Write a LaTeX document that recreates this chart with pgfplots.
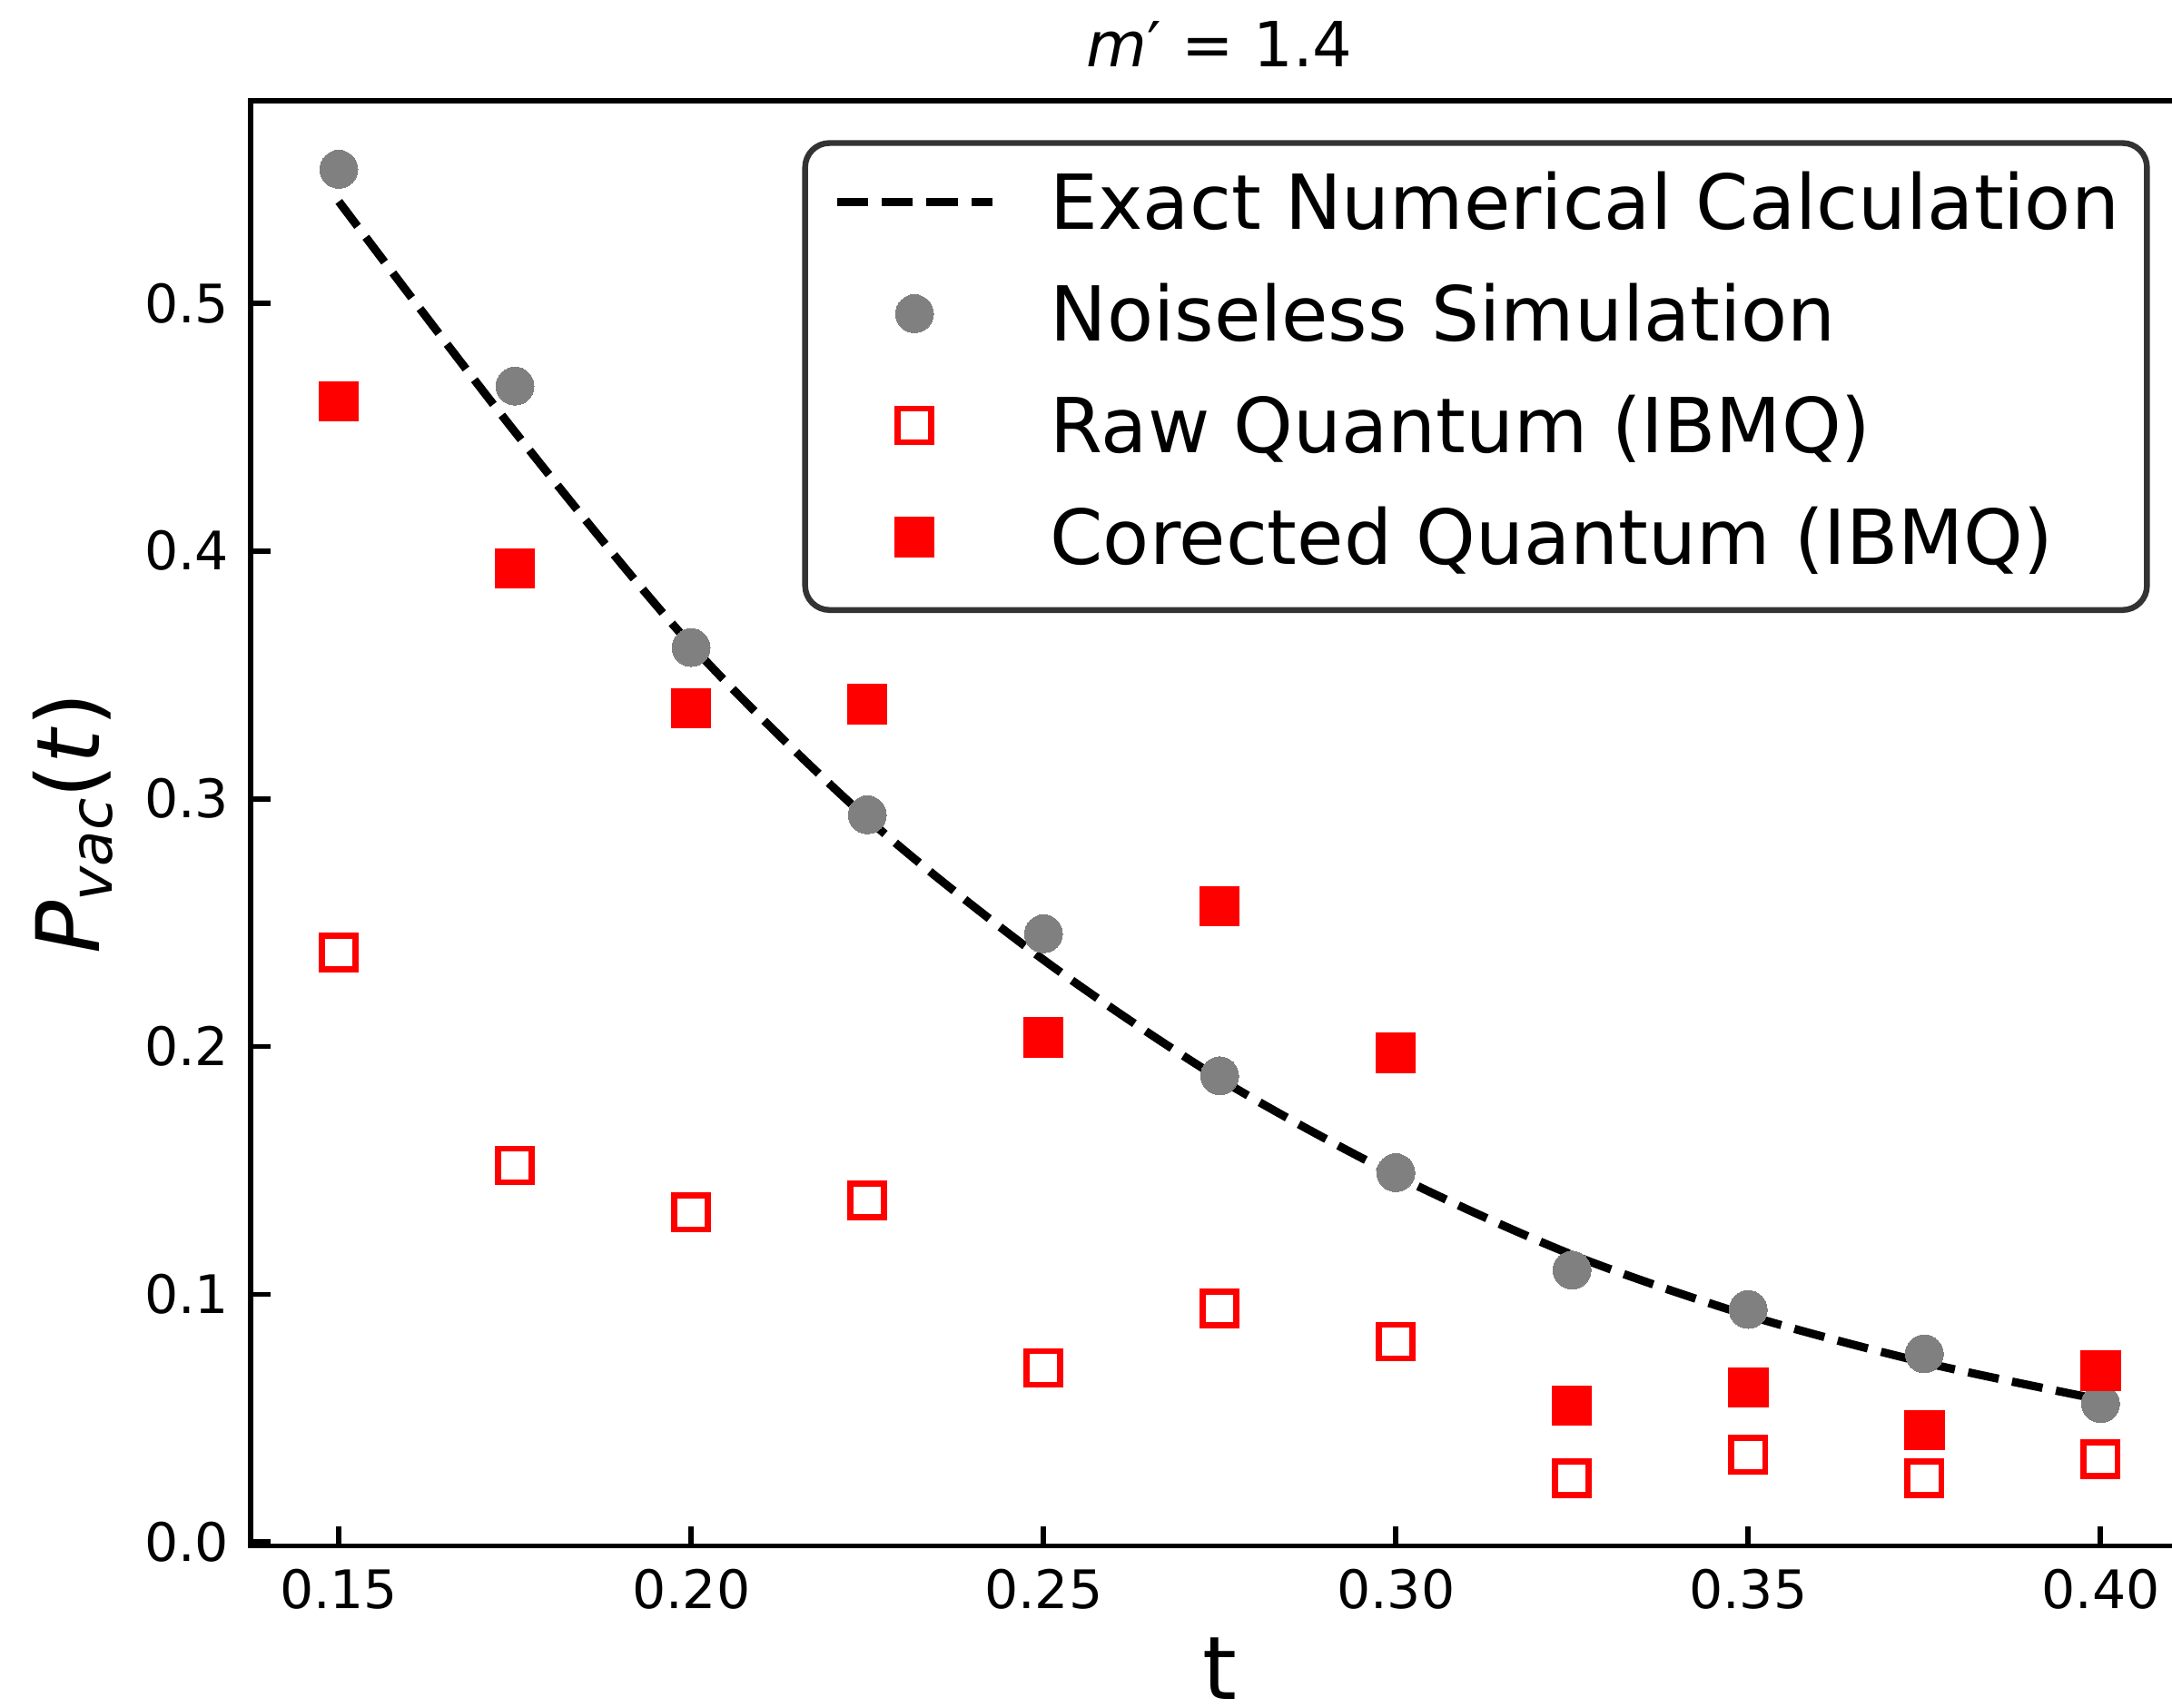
\documentclass[border=0pt]{standalone}
\usepackage{fontspec}
\setmainfont{DejaVu Sans}
\usepackage{pgfplots}
\pgfplotsset{compat=1.18}

\definecolor{ptgray}{HTML}{808080}
\definecolor{ptred}{HTML}{FF0000}

\pgfplotsset{
    lineleg/.style={legend image code/.code={\draw[##1] (0cm,0.05cm) -- (1.12cm,0.05cm);}},
    markleg/.style={legend image code/.code={\draw[##1] plot coordinates {(0.56cm,0.05cm)};}},
}

\begin{document}
\begin{tikzpicture}
\begin{axis}[
    scale only axis,
    width=13.99cm, height=10.43cm,
    xmin=0.1375, xmax=0.4125,
    ymin=-0.0015, ymax=0.5815,
    xtick={0.15,0.2,0.25,0.3,0.35,0.4},
    xticklabels={0.15,0.20,0.25,0.30,0.35,0.40},
    ytick={0,0.1,0.2,0.3,0.4,0.5},
    yticklabels={0.0,0.1,0.2,0.3,0.4,0.5},
    xtick pos=lower, ytick pos=left,
    tick align=inside,
    major tick length=0.142cm,
    axis line style={line width=1.1pt},
    every tick/.style={black, line width=1.1pt},
    ticklabel style={font=\fontsize{10.9}{13}\selectfont},
    xticklabel style={inner sep=0pt, yshift=-0.16cm},
    yticklabel style={inner sep=0pt, xshift=-0.15cm},
    title={\textit{m}′ = 1.4},
    title style={at={(0.5,1.024)}, anchor=base, yshift=-6pt, inner sep=0pt, font=\fontsize{12.8}{15}\selectfont},
    xlabel={t},
    xlabel style={at={(0.5,-0.106)}, anchor=base, inner sep=0pt, text depth=0pt, font=\fontsize{18}{20}\selectfont},
    ylabel={\textit{P}\raisebox{-2.5pt}{\fontsize{12}{12}\selectfont\textit{vac}}(\textit{t})},
    ylabel style={at={(-0.0779,0.5)}, anchor=base, inner sep=0pt, font=\fontsize{18}{20}\selectfont},
    legend cell align=left,
    legend style={at={(0.98,0.973)}, anchor=north east,
        draw=black!80, line width=1.2pt, rounded corners=5pt, fill=white,
        font=\fontsize{15.58}{18}\selectfont,
        inner xsep=0.2cm, inner ysep=0.2cm,
        row sep=0.257cm,
        nodes={inner sep=0pt, text height=0.42cm, text depth=0.13cm},
        /tikz/every odd column/.append style={column sep=0.39cm}},
]
% exact numerical curve
\addplot[black, line width=1.7pt, dash pattern=on 6.4pt off 2.8pt, smooth, lineleg]
    coordinates {(0.15,0.541) (0.175,0.448) (0.2,0.362) (0.225,0.292) (0.25,0.235)
    (0.275,0.187) (0.3,0.148) (0.325,0.116) (0.35,0.0915) (0.375,0.0725) (0.4,0.0575)};
% noiseless simulation
\addplot[only marks, mark=*, mark size=3.9pt, mark options={fill=ptgray, draw=ptgray, line width=0pt}, markleg]
    coordinates {(0.15,0.554) (0.175,0.4665) (0.2,0.361) (0.225,0.2935) (0.25,0.2455)
    (0.275,0.1882) (0.3,0.1491) (0.325,0.1098) (0.35,0.0939) (0.375,0.0760) (0.4,0.0559)};
% raw quantum
\addplot[only marks, mark=square, mark size=3.46pt, mark options={draw=ptred, line width=1.25pt}, markleg]
    coordinates {(0.15,0.238) (0.175,0.152) (0.2,0.133) (0.225,0.138) (0.25,0.0703)
    (0.275,0.0943) (0.3,0.0809) (0.325,0.0257) (0.35,0.0352) (0.375,0.0257) (0.4,0.0335)};
% corrected quantum
\addplot[only marks, mark=square*, mark size=4.05pt, mark options={fill=ptred, draw=ptred, line width=0pt}, markleg]
    coordinates {(0.15,0.4604) (0.175,0.3929) (0.2,0.3365) (0.225,0.3382) (0.25,0.2037)
    (0.275,0.2567) (0.3,0.1975) (0.325,0.0552) (0.35,0.0625) (0.375,0.0452) (0.4,0.0692)};
\legend{Exact Numerical Calculation, Noiseless Simulation, Raw Quantum (IBMQ), Corected Quantum (IBMQ)}
\end{axis}
\pgfresetboundingbox
\path[use as bounding box] (-1.81,-1.17) rectangle (13.87,11.16);
\end{tikzpicture}
\end{document}
